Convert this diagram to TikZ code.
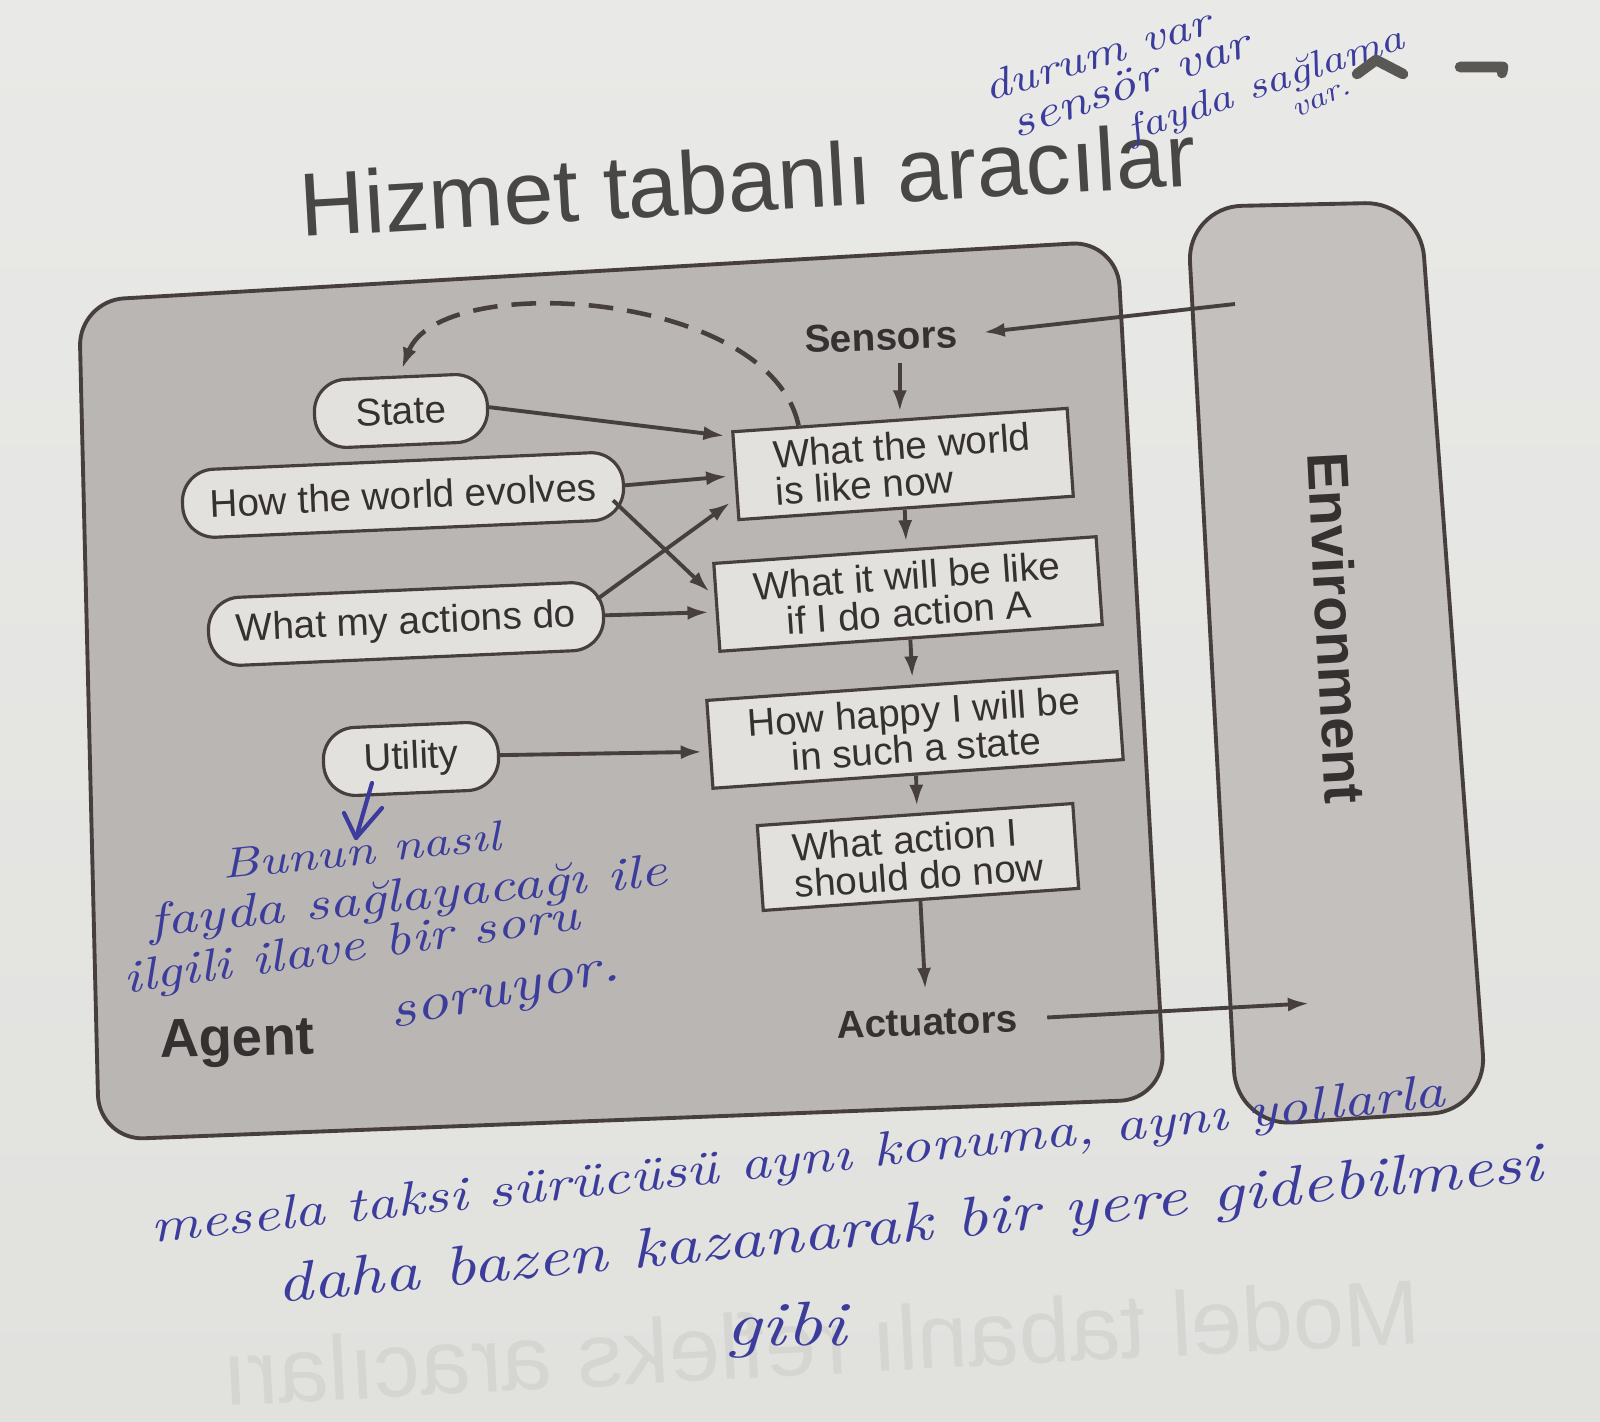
\documentclass[tikz,border=0pt]{standalone}
\usepackage{fontspec}
\usepackage{graphicx}
\newfontfamily\diagfont{Liberation Sans}
\usetikzlibrary{arrows.meta,calc}
\definecolor{paper}{HTML}{E9E9E7}
\definecolor{paperlow}{HTML}{E1E1DE}
\definecolor{panel}{HTML}{B9B6B3}
\definecolor{envpanel}{HTML}{C3C0BD}
\definecolor{cellfill}{HTML}{E3E1DD}
\definecolor{ink}{HTML}{463F3D}
\definecolor{printtext}{HTML}{353131}
\definecolor{pen}{HTML}{3C3C9C}
\definecolor{pencil}{HTML}{5A5855}
\definecolor{ghost}{HTML}{D5D5D2}

% pen writing squeezed to the given width, a little flattened
\newcommand\penline[2]{\resizebox{#1}{!}{\scalebox{1}[0.8]{#2}}}

\begin{document}
\begin{tikzpicture}[x=0.01cm,y=-0.01cm,
  every node/.style={font=\diagfont\fontsize{11}{10.5}\selectfont, text=printtext},
  cellbox/.style={draw=ink, fill=cellfill, line width=0.9pt, rectangle,
    inner sep=2pt, rotate=4, minimum height=0.88cm},
  pillbox/.style={draw=ink, fill=cellfill, line width=0.9pt, rectangle,
    rounded corners=0.32cm, minimum height=0.68cm, rotate=2.5},
  printlabel/.style={font=\diagfont\bfseries\fontsize{11}{13}\selectfont},
  flowarrow/.style={draw=ink, line width=1.1pt, -{Latex[length=6pt,width=4pt]},
    shorten >=2pt},
  penwriting/.style={font=\normalfont\itshape, text=pen, inner sep=0pt}
]
\useasboundingbox (0,0) rectangle (1600,1422);
\shade[top color=paper, bottom color=paperlow] (0,0) rectangle (1600,1422);

% show-through from the reverse side of the sheet
\node[text=ghost, rotate=3, font=\diagfont\fontsize{26}{30}\selectfont]
  (ghosttitle) at (821,1342) {\scalebox{-1}[1]{Model tabanlı refleks aracıları}};

% heading
\node[anchor=base west, rotate=3.3, inner sep=0pt,
      font=\diagfont\fontsize{25.5}{30}\selectfont, text=printtext!90!white]
  (title) at (301,237) {Hizmet tabanlı aracılar};

% agent and environment panels
\draw[draw=ink, fill=panel, line width=1.1pt, rounded corners=0.45cm]
  (79,301) -- (1117,241) -- (1165,1099) -- (99,1140) -- cycle;
\draw[draw=ink, fill=envpanel, line width=1.1pt, rounded corners=0.55cm]
  (1187,207) -- (1420,202) -- (1487,1110) -- (1237,1126) -- cycle;

\node[font=\diagfont\bfseries\fontsize{16.4}{19}\selectfont, rotate=-87]
  (env) at (1337,628) {Environment};
\node[font=\diagfont\bfseries\fontsize{15.5}{18}\selectfont, rotate=1.5]
  (agent) at (237,1043) {Agent};

% sensors and actuators
\node[printlabel, rotate=2] (sensors) at (881,337) {Sensors};
\node[printlabel, rotate=2] (actuators) at (927,1022) {Actuators};
\coordinate (envin) at (1235,304);
\coordinate (envout) at (1316,1003);

% decision chain
\node[cellbox, minimum width=3.35cm, align=left] (now) at (903,464)
  {What the world\\is like now};
\node[cellbox, minimum width=3.83cm, align=center] (will) at (908,594)
  {What it will be like\\if I do action A};
\node[cellbox, minimum width=4.11cm, align=center] (happy) at (915,730)
  {How happy I will be\\in such a state};
\node[cellbox, minimum width=3.16cm, minimum height=0.85cm, align=left] (act) at (918,857)
  {What action I\\should do now};

% internal knowledge
\node[pillbox, minimum width=1.73cm] (state) at (401,411) {State};
\node[pillbox, minimum width=4.41cm] (evolve) at (403,495) {How the world evolves};
\node[pillbox, minimum width=3.95cm] (effects) at (406,624) {What my actions do};
\node[pillbox, minimum width=1.75cm] (utility) at (411,759) {Utility};

% connectors
\draw[flowarrow, shorten >=4pt] (envin) -- (sensors.east);
\draw[flowarrow] (sensors.south -| now.north) -- (now.north);
\draw[flowarrow] (now) -- (will);
\draw[flowarrow] (will) -- (happy);
\draw[flowarrow] (happy) -- (act);
\draw[flowarrow] (act) -- (actuators);
\draw[flowarrow, shorten <=5pt] (actuators.east) -- (envout);

\draw[flowarrow] (state.east) -- ($(now.north west)!0.07!(now.south west)$);
\draw[flowarrow] (evolve.east) -- ($(now.north west)!0.5!(now.south west)$);
\draw[flowarrow] ($(evolve.east)+(-12,15)$) -- ($(will.north west)!0.38!(will.south west)$);
\draw[flowarrow] ($(effects.east)+(-8,-16)$) -- ($(now.north west)!0.75!(now.south west)$);
\draw[flowarrow] (effects.east) -- ($(will.north west)!0.55!(will.south west)$);
\draw[flowarrow] (utility.east) -- ($(happy.north west)!0.58!(happy.south west)$);

\draw[flowarrow, line width=1.3pt, dash pattern=on 7pt off 4pt]
  ($(now.north west)!0.2!(now.north east)$) .. controls (770,290) and (440,270) .. (state.north);

% pen notes, upper right
\node[penwriting, rotate=17] (noteA) at (1097,54) {\penline{2.35cm}{durum var}};
\node[penwriting, rotate=19.5] (noteB) at (1130,83) {\penline{2.5cm}{sensör var}};
\node[penwriting, rotate=19] (noteC) at (1266,86) {\penline{2.9cm}{fayda sağlama}};
\node[penwriting, rotate=25] (noteD) at (1322,100) {\penline{0.62cm}{var.}};

\draw[pencil, line width=3pt, line cap=round, line join=round]
  (1357,74) -- (1376,60) -- (1403,74);
\draw[pencil, line width=3pt, line cap=round, line join=round]
  (1460,67) -- (1503,67) -- (1502,73);

% pen notes under the utility node
\coordinate (penfrom) at (372,783);
\coordinate (pento) at (356,838);
\draw[pen, line width=1.2pt, line cap=round] (penfrom) -- (pento);
\draw[pen, line width=1.2pt, line cap=round, line join=round]
  ($(pento)+(-12,-25)$) -- (pento) -- ($(pento)+(26,-30)$);

\node[penwriting, rotate=6] (noteE) at (361,850) {\penline{2.8cm}{Bunun nasıl}};
\node[penwriting, rotate=5.6] (noteF) at (408,899) {\penline{5.2cm}{fayda sağlayacağı ile}};
\node[penwriting, rotate=8] (noteG) at (352,950) {\penline{4.6cm}{ilgili ilave bir soru}};
\node[penwriting, rotate=12] (noteH) at (506,998) {\penline{2.35cm}{soruyor.}};

% pen notes under the agent panel
\node[penwriting, rotate=6] (noteI) at (798,1163)
  {\penline{13.0cm}{mesela taksi sürücüsü aynı konuma, aynı yollarla}};
\node[penwriting, rotate=5.5] (noteJ) at (910,1228)
  {\penline{12.7cm}{daha bazen kazanarak bir yere gidebilmesi}};
\node[penwriting] (noteK) at (786,1330) {\penline{1.2cm}{gibi}};
\end{tikzpicture}
\end{document}
